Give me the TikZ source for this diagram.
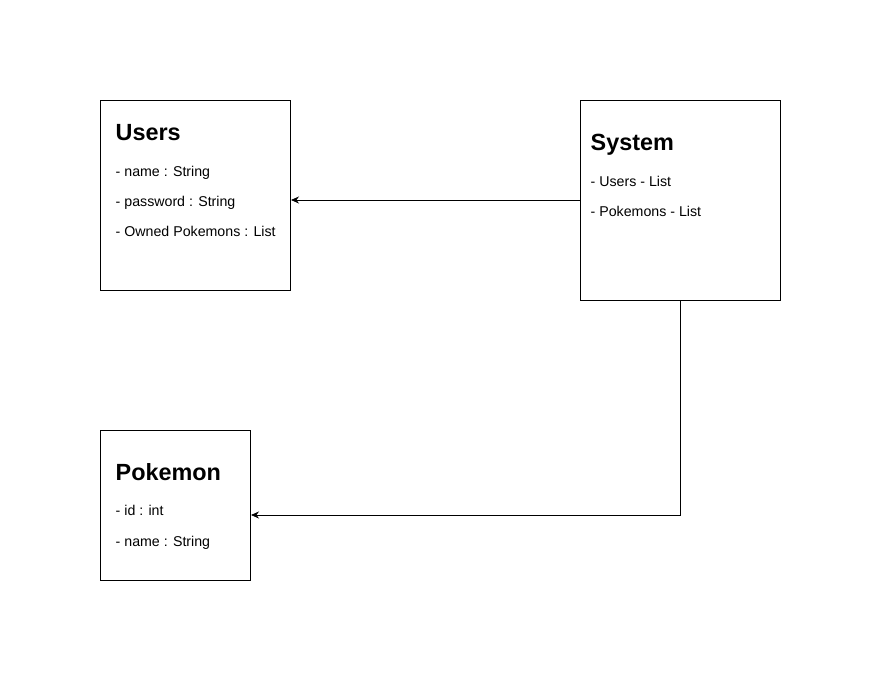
\documentclass[tikz,border=0pt]{standalone}
\usepackage{fontspec}
\setmainfont{Liberation Sans}
\usetikzlibrary{arrows.meta}
\usetikzlibrary{calc}

\tikzset{
    classbox/.style={draw, line width=1pt, anchor=north west, inner sep=0pt},
    classtitle/.style={anchor=base west, inner sep=0pt, font=\fontsize{23.4}{26}\selectfont\bfseries},
    classfield/.style={anchor=base west, inner sep=0pt, font=\fontsize{14.2}{16}\selectfont},
    link/.style={line width=0.8pt, -{Stealth[length=8pt,width=7pt]}}
}

\begin{document}
\begin{tikzpicture}[x=1pt,y=-1pt]
            \useasboundingbox (0,0) rectangle (881,681);
            % draw the boxes
            \node[classbox, minimum width=190pt, minimum height=190pt] (users) at (100,100) {};
            \node[classbox, minimum width=200pt, minimum height=200pt] (system) at (580,100) {};
            \node[classbox, minimum width=150pt, minimum height=150pt] (pokemon) at (100,430) {};
            % titles and fields
            \node[classtitle] (users-t) at (115.5,140) {Users};
            \foreach \t [count=\i] in {name : String, password : String, Owned Pokemons : List}
                \node[classfield] (users-f\i) at (115.5,{146+30*\i}) {- \t};
            \node[classtitle] (system-t) at (590.5,150) {System};
            \foreach \t [count=\i] in {Users - List, Pokemons - List}
                \node[classfield] (system-f\i) at (590.5,{156+30*\i}) {- \t};
            \node[classtitle] (pokemon-t) at (115.5,480) {Pokemon};
            \foreach \t [count=\i] in {id : int, name : String}
                \node[classfield] (pokemon-f\i) at (115.5,{485+30.5*\i}) {- \t};
            % draw the links
            \coordinate (users-in) at ($(users.north east)+(0,100)$);
            \coordinate (pokemon-in) at ($(pokemon.north east)+(0,85)$);
            \draw[link] (users-in -| system.west) -- (users-in);
            \draw[link] (system.south) |- (pokemon-in);
        \end{tikzpicture}
\end{document}
